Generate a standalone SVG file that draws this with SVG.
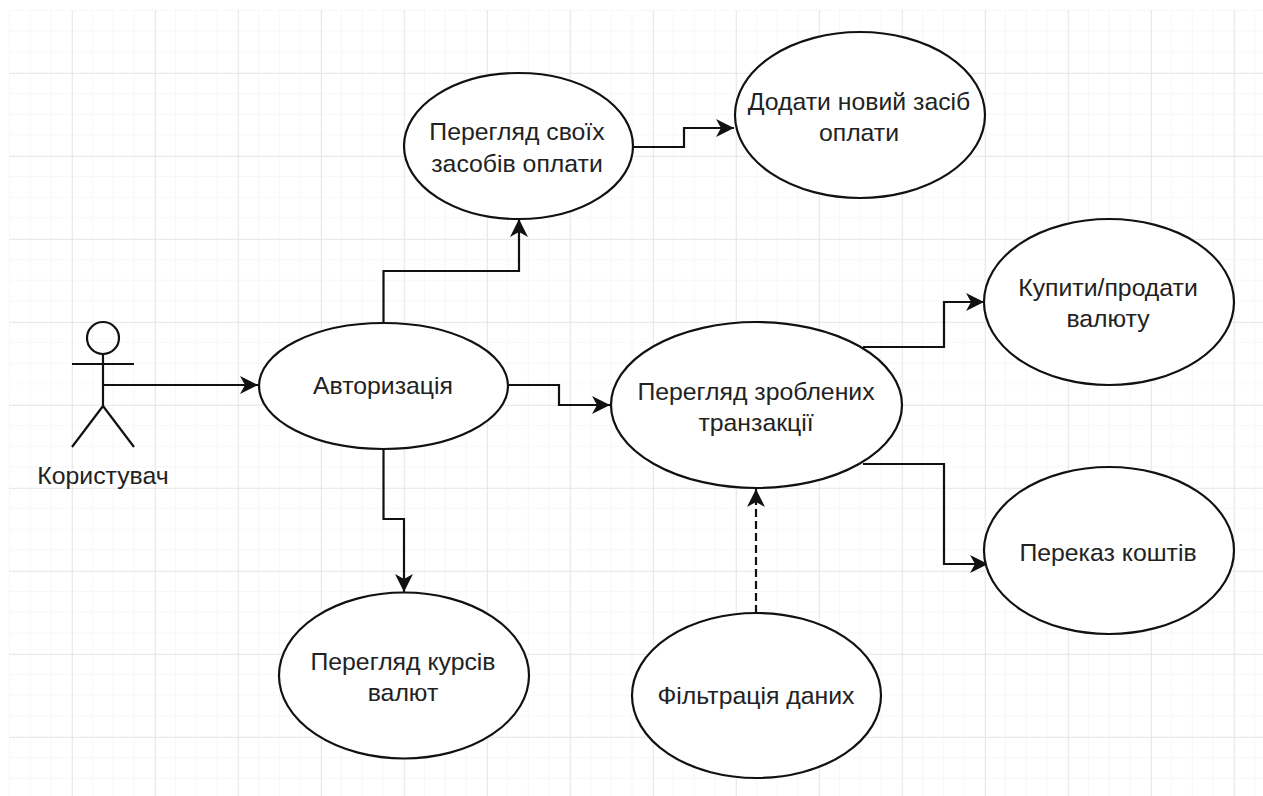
<svg xmlns="http://www.w3.org/2000/svg" width="1263" height="796" viewBox="0 0 1263 796">
<defs>
<pattern id="minor" x="9" y="10" width="20.75" height="20.75" patternUnits="userSpaceOnUse"><path d="M0 0H20.75M0 0V20.75" fill="none" stroke="#f2f2f2" stroke-width="1.2"/></pattern>
<pattern id="major" x="-11" y="-10" width="83" height="83" patternUnits="userSpaceOnUse"><path d="M0 0H83M0 0V83" fill="none" stroke="#e4e4e4" stroke-width="1.5"/></pattern>
<marker id="arr" markerWidth="20" markerHeight="18" refX="18" refY="9" orient="auto" markerUnits="userSpaceOnUse"><path d="M0 0L18 9L0 18L5 9Z" fill="#111"/></marker>
</defs>
<style>
.n{fill:#fff;stroke:#111;stroke-width:2.2}
.c{fill:none;stroke:#111;stroke-width:2.2;marker-end:url(#arr)}
.s{fill:none;stroke:#111;stroke-width:2.2}
text{font-family:"Liberation Sans",Arial,sans-serif;font-size:24.800px;fill:#222;text-anchor:middle}
</style>
<rect width="1263" height="796" fill="#fff"/>
<rect x="9" y="10" width="1254" height="786" fill="url(#minor)"/>
<rect x="9" y="10" width="1254" height="786" fill="url(#major)"/>
<g id="connectors">
<path class="c" d="M103 385H258"/>
<path class="c" d="M383.500 323V271H519V219"/>
<path class="c" d="M633 147H684V128H734"/>
<path class="c" d="M508 385H559V405H610"/>
<path class="c" d="M383.500 449V519H404V592"/>
<path class="c" d="M863 347H944V302H984"/>
<path class="c" d="M863 464H944V564H988"/>
<path class="c" d="M756 613V489" stroke-dasharray="8 4" stroke-width="2.6"/>
</g>
<g id="actor"><circle class="s" cx="103" cy="338" r="16"/><path class="s" d="M103 354V406M72 364H134M103 406L72 447M103 406L134 447"/><text x="103" y="484">Користувач</text></g>
<g id="auth"><ellipse class="n" cx="383.500" cy="386" rx="124.500" ry="63"/><text x="383" y="394">Авторизація</text></g>
<g id="methods"><ellipse class="n" cx="518.500" cy="146" rx="114.500" ry="73"/><text x="517" y="140">Перегляд своїх</text><text x="517" y="172">засобів оплати</text></g>
<g id="add"><ellipse class="n" cx="860" cy="115" rx="125" ry="83"/><text x="859" y="110">Додати новий засіб</text><text x="859" y="141">оплати</text></g>
<g id="transactions"><ellipse class="n" cx="756.500" cy="405" rx="145.500" ry="83"/><text x="756" y="400">Перегляд зроблених</text><text x="756" y="431">транзакції</text></g>
<g id="buy"><ellipse class="n" cx="1109" cy="302" rx="125" ry="83"/><text x="1108" y="296">Купити/продати</text><text x="1108" y="327">валюту</text></g>
<g id="transfer"><ellipse class="n" cx="1109" cy="550.500" rx="125" ry="83.500"/><text x="1108" y="561">Переказ коштів</text></g>
<g id="rates"><ellipse class="n" cx="404" cy="675.500" rx="125" ry="83"/><text x="403" y="670">Перегляд курсів</text><text x="403" y="701">валют</text></g>
<g id="filter"><ellipse class="n" cx="756.500" cy="695.500" rx="124.500" ry="82.500"/><text x="756" y="704">Фільтрація даних</text></g>
</svg>
